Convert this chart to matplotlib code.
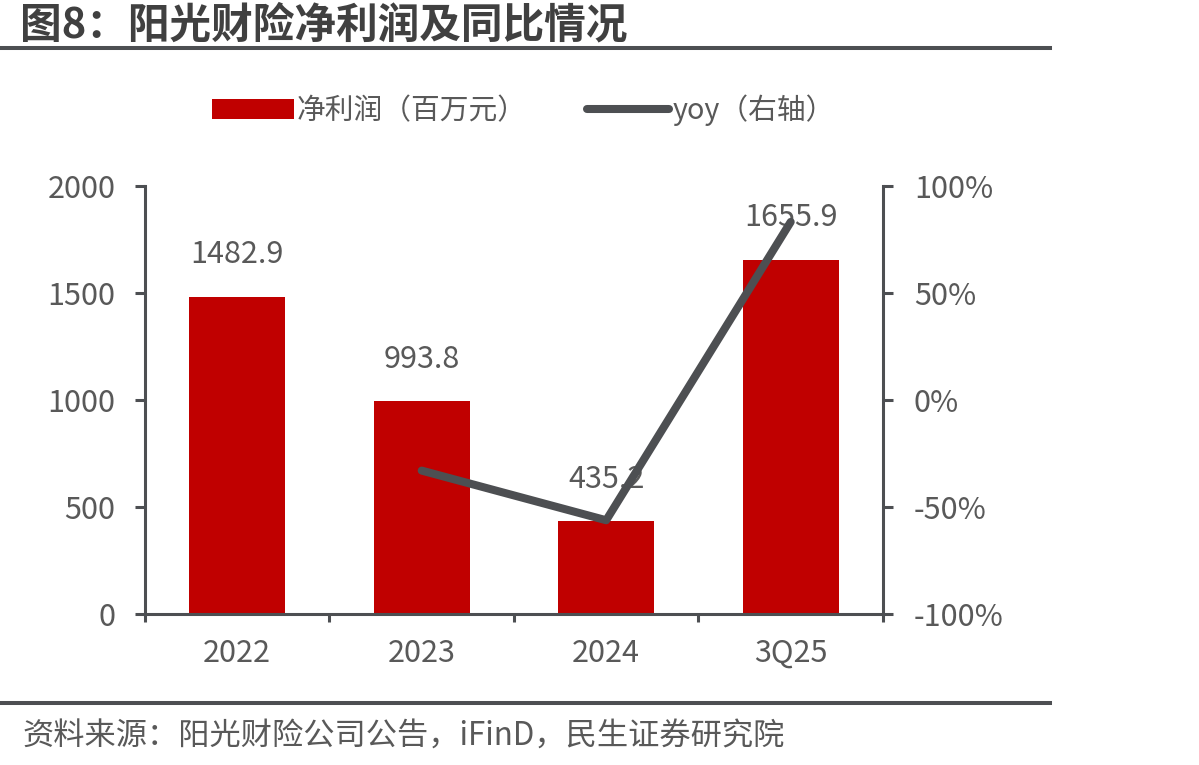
import matplotlib.pyplot as plt
from matplotlib.lines import Line2D
from matplotlib.patches import Patch

plt.rcParams['font.family'] = ['Noto Sans CJK SC', 'DejaVu Sans']

categories = ['2022', '2023', '2024', '3Q25']
profit = [1482.9, 993.8, 435.2, 1655.9]
yoy_x = ['2023', '2024', '3Q25']
yoy = [-33.0, -56.2, 83.2]
left_ticks = [0, 500, 1000, 1500, 2000]
right_ticks = [-100, -50, 0, 50, 100]

red = '#c00000'
dark = '#4d4f52'
txt = '#595959'
fs = 22

fig = plt.figure(figsize=(11.99, 7.65), dpi=100)
ax = fig.add_axes([0.1209, 0.1974, 0.6155, 0.5595])
ax2 = ax.twinx()

x = list(range(len(categories)))
ax.bar(x, profit, width=0.52, color=red, zorder=2)
for xi, v in zip(x, profit):
    ax.annotate(f'{v:.1f}', (xi, v), xytext=(0, 30), textcoords='offset points',
                ha='center', va='center', fontsize=fs, color=txt, zorder=3)

xl = [categories.index(c) for c in yoy_x]
ax2.plot(xl, yoy, color=dark, lw=5.8, solid_capstyle='round',
         solid_joinstyle='round', zorder=5)

ax.set_xlim(-0.5, 3.5)
ax.set_ylim(0, 2000)
ax2.set_ylim(-100, 100)
ax.set_yticks(left_ticks)
ax2.set_yticks(right_ticks)
ax2.set_yticklabels([f'{t}%' for t in right_ticks])
ax.set_xticks([i - 0.5 for i in range(len(categories) + 1)])
ax.set_xticklabels([])
ax.set_xticks(x, minor=True)
ax.set_xticklabels(categories, minor=True)

for a in (ax, ax2):
    for s in a.spines.values():
        s.set_color(dark)
        s.set_linewidth(2.2)
    a.spines['top'].set_visible(False)
ax.spines['right'].set_visible(False)
ax2.spines['left'].set_visible(False)
ax2.spines['bottom'].set_visible(False)

ax.tick_params(axis='y', direction='out', length=7.2, width=2.2, color=dark,
               pad=14, labelsize=fs, labelcolor=txt)
ax2.tick_params(axis='y', direction='out', length=7.2, width=2.2, color=dark,
                pad=15, labelsize=fs, labelcolor=txt)
ax.tick_params(axis='x', which='major', direction='out', length=6, width=2.2, color=dark)
ax.tick_params(axis='x', which='minor', length=0, pad=17, labelsize=fs, labelcolor=txt)

ax.set_zorder(1)
ax2.set_zorder(2)
ax.patch.set_visible(False)

handles = [Patch(facecolor=red, edgecolor='none'),
           Line2D([0], [0], color=dark, lw=5.8, solid_capstyle='round')]
fig.legend(handles, ['净利润（百万元）', 'yoy（右轴）'], loc='center',
           bbox_to_anchor=(0.4366, 0.856), ncol=2, frameon=False, fontsize=20.7,
           labelcolor=txt, handlelength=2.85, handleheight=0.66,
           handletextpad=0.1, columnspacing=2.1)

fig.text(0.0167, 0.967, '图8：阳光财险净利润及同比情况', fontsize=30,
         fontweight='bold', color='#404040', ha='left', va='center')
fig.add_artist(Line2D([0, 0.8757], [0.937, 0.937], transform=fig.transFigure,
                      color=dark, lw=2.9))
fig.add_artist(Line2D([0, 0.8757], [0.081, 0.081], transform=fig.transFigure,
                      color=dark, lw=2.9))
fig.text(0.0185, 0.037, '资料来源：阳光财险公司公告，iFinD，民生证券研究院',
         fontsize=22.5, color=txt, ha='left', va='center')

fig.savefig('out.png', dpi=100)
